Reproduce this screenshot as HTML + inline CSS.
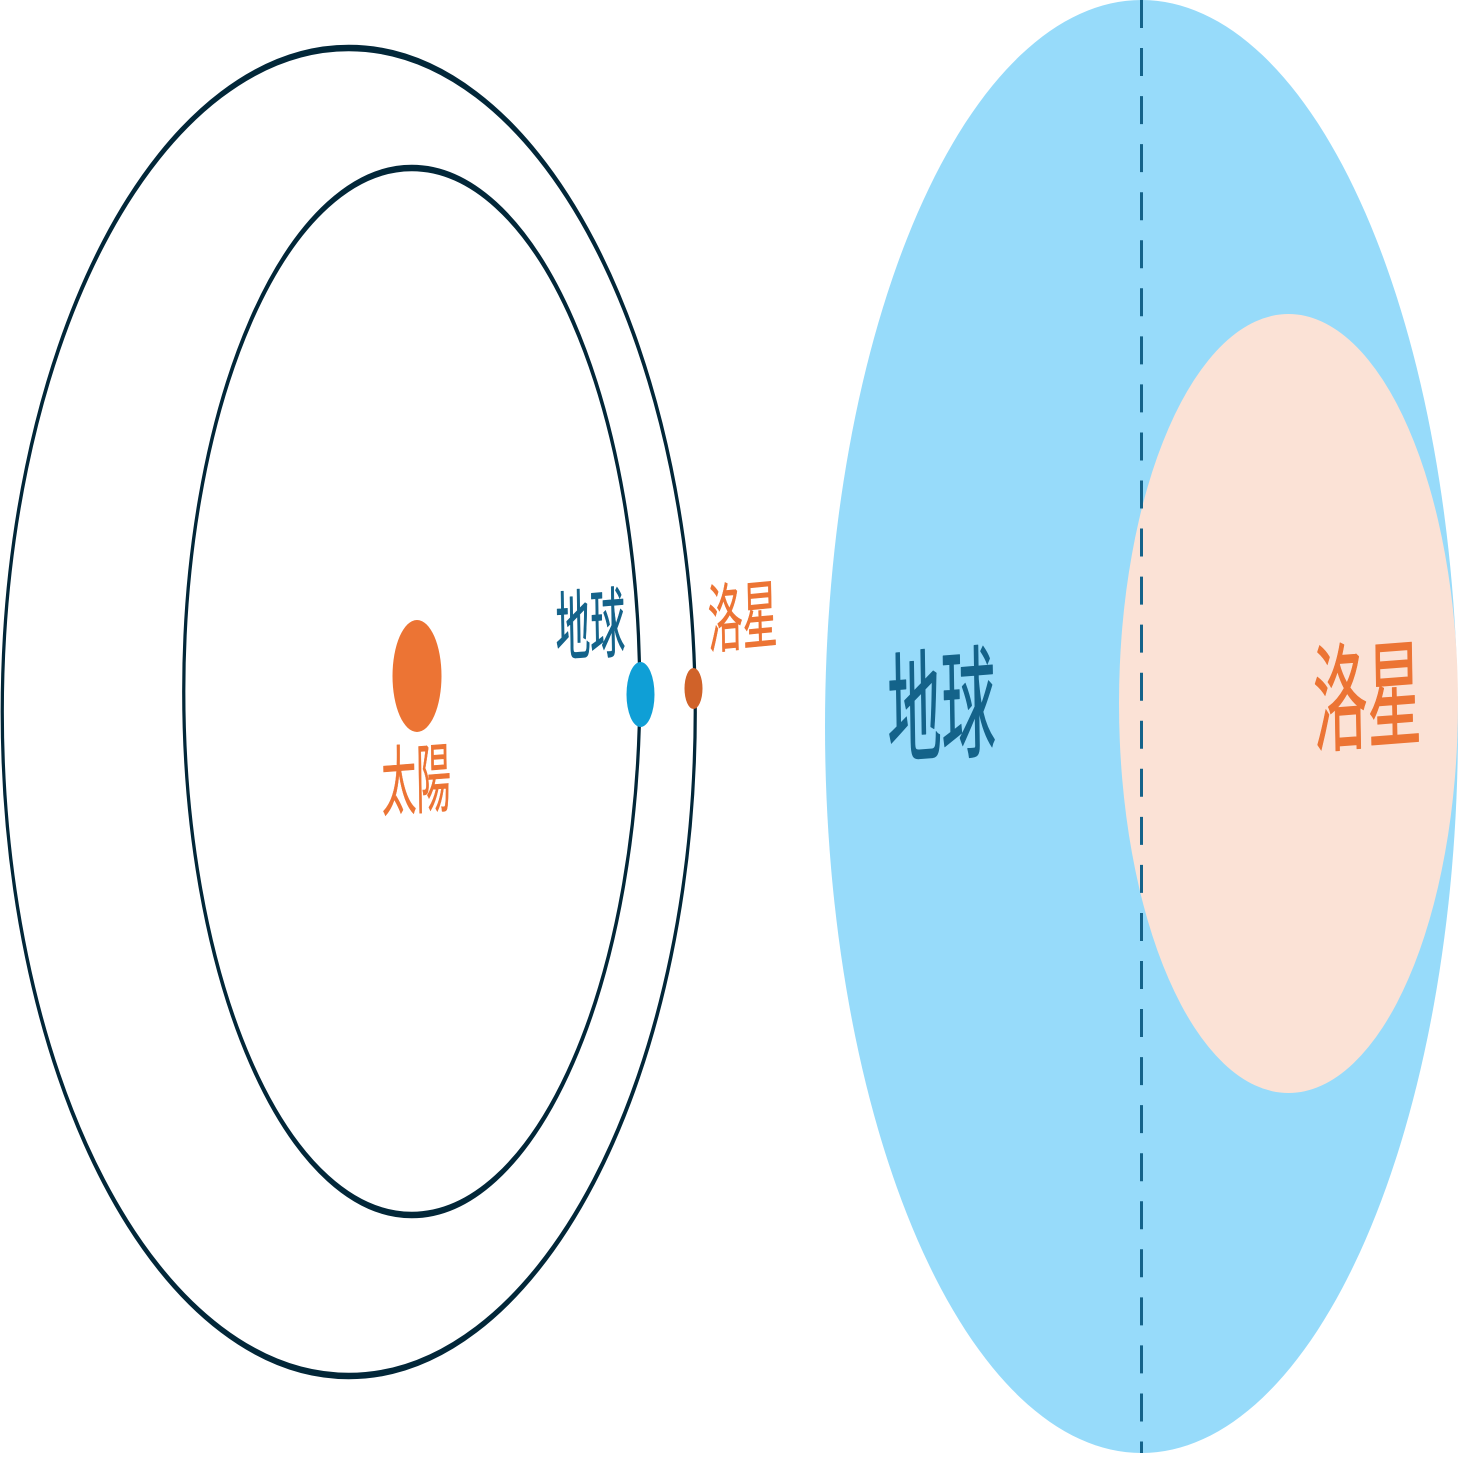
<!DOCTYPE html>
<html><head><meta charset="utf-8"><style>
html,body{margin:0;padding:0;background:#fff}
svg{display:block}
text{font-family:"Liberation Sans","WenQuanYi Zen Hei","Noto Sans CJK TC",sans-serif;stroke-linejoin:round}
</style></head><body>
<svg width="1458" height="1458" viewBox="0 0 1458 1458" xmlns="http://www.w3.org/2000/svg">
<rect width="1458" height="1458" fill="#fff"/>
<g transform="scale(0.5,1)">
<ellipse cx="697.5" cy="712" rx="693" ry="664" fill="none" stroke="#022739" stroke-width="6.5"/>
<ellipse cx="823.5" cy="691.5" rx="456" ry="523.5" fill="none" stroke="#022739" stroke-width="6.5"/>
<ellipse cx="834" cy="676" rx="49" ry="56" fill="#ec7434"/>
<ellipse cx="1281" cy="694.5" rx="28" ry="32.5" fill="#0f9fd6"/>
<ellipse cx="1387" cy="688.5" rx="18" ry="20.5" fill="#d06229"/>
<ellipse cx="2283" cy="726.5" rx="633" ry="726.5" fill="#97dbfa"/>
<ellipse cx="2577" cy="703.5" rx="339" ry="389.5" fill="#fbe2d6"/>
</g>
<line x1="1141.5" y1="0" x2="1141.5" y2="1453" stroke="#14638a" stroke-width="3" stroke-dasharray="28 20.05"/>
<text transform="translate(556,655) scale(0.51,1.12) rotate(-2)" fill="#14638a" stroke="#14638a" stroke-width="0.9" font-size="68">地球</text>
<text transform="translate(708.5,647) scale(0.51,1.1) rotate(-2.5)" fill="#ec7434" stroke="#ec7434" stroke-width="0.6" font-size="68">洛星</text>
<text transform="translate(382,810) scale(0.51,1.12) rotate(-2)" fill="#ec7434" stroke="#ec7434" stroke-width="0.5" font-size="68">太陽</text>
<text transform="translate(888,754) scale(0.5,1.12) rotate(-2)" fill="#14638a" stroke="#14638a" stroke-width="1.3" font-size="108">地球</text>
<text transform="translate(1314,743) scale(0.5,1.08) rotate(-2)" fill="#ec7434" stroke="#ec7434" stroke-width="1" font-size="108">洛星</text>
</svg>
</body></html>
